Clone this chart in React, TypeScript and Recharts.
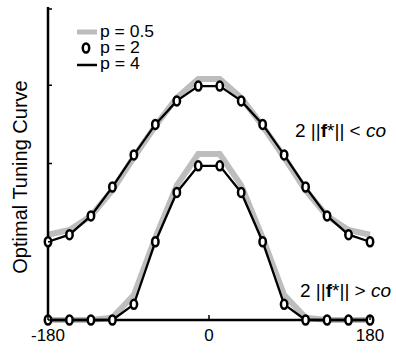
import { LineChart, Line, XAxis, YAxis } from 'recharts';

const angles = [-180, -156, -132, -108, -84, -60, -36, -12, 12, 36, 60, 84, 108, 132, 156, 180];

// p = 0.5 (thick gray)
const upperP05 = [1.09, 1.15, 1.33, 1.66, 2.08, 2.48, 2.84, 3.08, 3.08, 2.84, 2.48, 2.08, 1.66, 1.33, 1.15, 1.09];
const lowerP05 = [0, 0, 0, 0.03, 0.32, 1.05, 1.72, 2.12, 2.12, 1.72, 1.05, 0.32, 0.03, 0, 0, 0];

// p = 2 (circles)
const upperP2 = [1.0, 1.09, 1.33, 1.7, 2.11, 2.5, 2.8, 2.99, 2.99, 2.8, 2.5, 2.11, 1.7, 1.33, 1.09, 1.0];
const lowerP2 = [0, 0, 0, 0, 0.2, 1.0, 1.63, 1.97, 1.97, 1.63, 1.0, 0.2, 0, 0, 0, 0];

// p = 4 (black line)
const upperP4 = [1.0, 1.09, 1.33, 1.7, 2.11, 2.5, 2.8, 2.99, 2.99, 2.8, 2.5, 2.11, 1.7, 1.33, 1.09, 1.0];
const lowerP4 = [0, 0, 0, 0, 0.2, 1.0, 1.63, 1.97, 1.97, 1.63, 1.0, 0.2, 0, 0, 0, 0];

const xTicks = [-180, 0, 180];
const yTicks = [0, 1, 2, 3, 4];

const data = angles.map((a, i) => ({
  a,
  u05: upperP05[i],
  l05: lowerP05[i],
  u2: upperP2[i],
  l2: lowerP2[i],
  u4: upperP4[i],
  l4: lowerP4[i],
}));

const GRAY = '#bdbdbd';
const FONT = 'Arial, "Liberation Sans", Helvetica, sans-serif';

const Ring = (props: any) => {
  const { cx, cy } = props;
  if (cx == null || cy == null) return null;
  return <ellipse cx={cx} cy={cy} rx={3.2} ry={4.5} fill="#fff" stroke="#000" strokeWidth={2.5} />;
};

const XTick = ({ x, y, payload }: any) => (
  <g>
    <line x1={x} x2={x} y1={y} y2={y - 5} stroke="#000" strokeWidth={1.5} />
    <text x={x} y={y + 21} textAnchor="middle" fontSize={17} fontFamily={FONT} fill="#000">
      {payload.value}
    </text>
  </g>
);

const YTick = ({ x, y }: any) => <line x1={x} x2={x + 4} y1={y} y2={y} stroke="#000" strokeWidth={1.5} />;

export default function App() {
  return (
    <div style={{ position: 'absolute', left: 0, top: 0, width: 396, height: 355, background: '#fff' }}>
      <LineChart width={396} height={355} data={data} margin={{ top: 7, right: 26, bottom: 0, left: 0 }}>
        <XAxis
          dataKey="a"
          type="number"
          domain={[-180, 180]}
          ticks={xTicks}
          height={35}
          tickSize={0}
          tickMargin={0}
          tick={<XTick />}
          axisLine={{ stroke: '#000', strokeWidth: 2.5 }}
          tickLine={false}
        />
        <YAxis
          type="number"
          domain={[0, 4]}
          ticks={yTicks}
          width={48}
          tickSize={0}
          tickMargin={0}
          tick={<YTick />}
          axisLine={{ stroke: '#000', strokeWidth: 2.5 }}
          tickLine={false}
        />
        <Line dataKey="u05" type="linear" stroke={GRAY} strokeWidth={6} dot={false} isAnimationActive={false} />
        <Line dataKey="l05" type="linear" stroke={GRAY} strokeWidth={6} dot={false} isAnimationActive={false} />
        <Line dataKey="u4" type="linear" stroke="#000" strokeWidth={2.3} dot={false} isAnimationActive={false} />
        <Line dataKey="l4" type="linear" stroke="#000" strokeWidth={2.3} dot={false} isAnimationActive={false} />
        <Line dataKey="u2" type="linear" stroke="none" dot={<Ring />} isAnimationActive={false} />
        <Line dataKey="l2" type="linear" stroke="none" dot={<Ring />} isAnimationActive={false} />
      </LineChart>
      <svg
        width={396}
        height={355}
        style={{ position: 'absolute', left: 0, top: 0, pointerEvents: 'none' }}
        fontFamily={FONT}
      >
        <text x={27} y={177} transform="rotate(-90 27 177)" textAnchor="middle" fontSize={20} fill="#000">
          Optimal Tuning Curve
        </text>
        <line x1={77} x2={97} y1={32} y2={32} stroke={GRAY} strokeWidth={5} />
        <text x={100} y={37} fontSize={16} textLength={54} lengthAdjust="spacingAndGlyphs">p = 0.5</text>
        <ellipse cx={86} cy={48} rx={3.2} ry={4.5} fill="#fff" stroke="#000" strokeWidth={2.5} />
        <text x={100} y={53} fontSize={16} textLength={40} lengthAdjust="spacingAndGlyphs">p = 2</text>
        <line x1={77} x2={97} y1={65} y2={65} stroke="#000" strokeWidth={2.5} />
        <text x={100} y={69} fontSize={16} textLength={40} lengthAdjust="spacingAndGlyphs">p = 4</text>
        <text x={295} y={137} fontSize={19}>
          2 ||<tspan fontWeight="bold">f</tspan>*|| &lt; <tspan fontStyle="italic">co</tspan>
        </text>
        <text x={300} y={297} fontSize={19}>
          2 ||<tspan fontWeight="bold">f</tspan>*|| &gt; <tspan fontStyle="italic">co</tspan>
        </text>
      </svg>
    </div>
  );
}
